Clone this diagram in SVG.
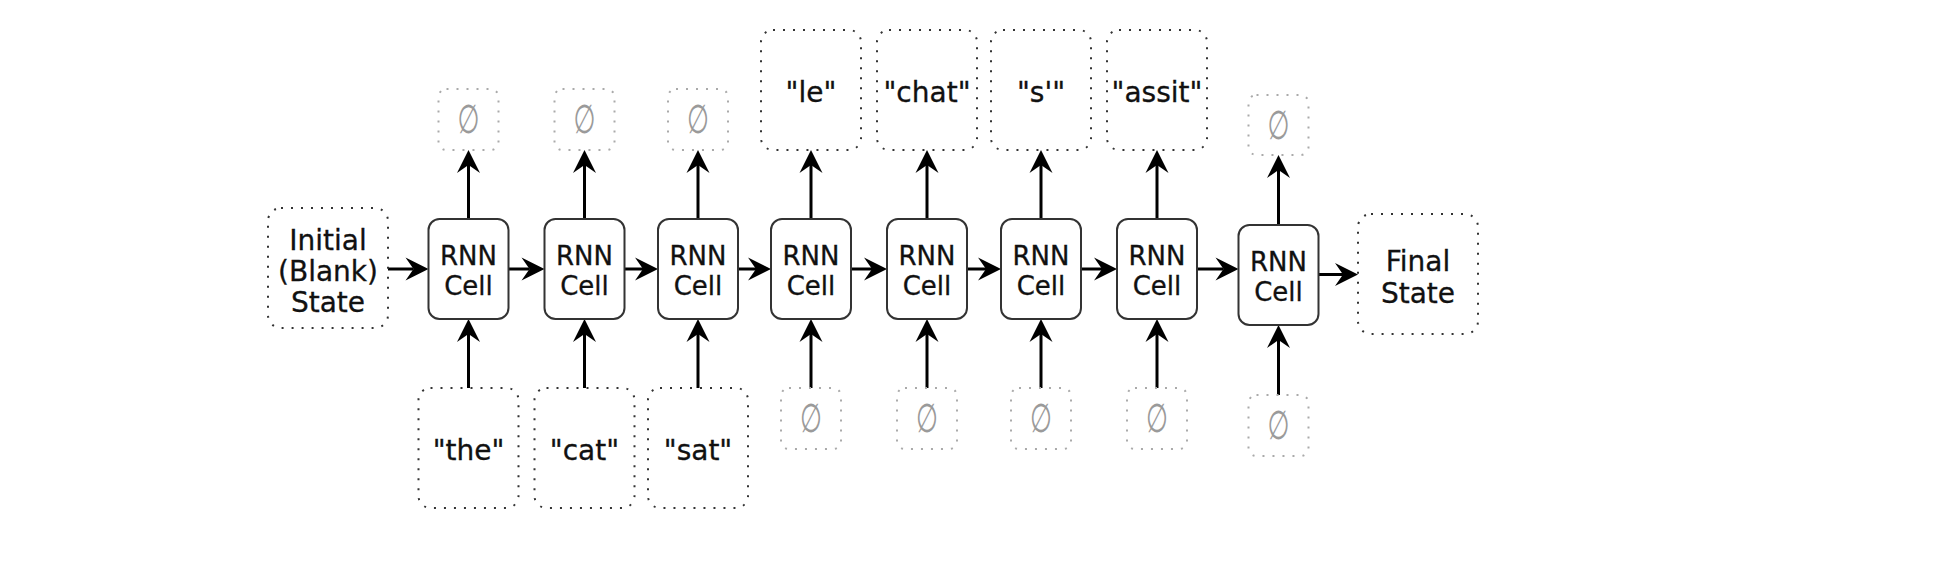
<svg xmlns="http://www.w3.org/2000/svg" width="1960" height="570" viewBox="0 0 1960 570">
<style>
  .cell { fill: #ffffff; stroke: #333333; stroke-width: 2; }
  .dbox { fill: none; stroke: #333333; stroke-width: 2; stroke-dasharray: 2 8; }
  .ebox { fill: none; stroke: #aaaaaa; stroke-width: 2; stroke-dasharray: 2 8; }
  .t { font-family: "DejaVu Sans", Verdana, sans-serif; font-size: 28px; fill: #111111; stroke: #111111; stroke-width: 0.3; text-anchor: middle; }
  .c { font-family: "DejaVu Sans", Verdana, sans-serif; font-size: 26px; fill: #111111; stroke: #111111; stroke-width: 0.3; text-anchor: middle; }
  .e { font-family: "DejaVu Sans", sans-serif; font-size: 28px; fill: #9a9a9a; text-anchor: middle; }
  .arr { stroke: #000000; stroke-width: 3; fill: none; marker-end: url(#ah); }
</style>
<defs>
  <marker id="ah" markerUnits="userSpaceOnUse" orient="auto" overflow="visible" markerWidth="1" markerHeight="1" refX="0" refY="0">
    <path d="M15,0 L-8,-11.5 L0,0 L-8,11.5 Z" fill="#000000"/>
  </marker>
</defs>
<rect width="1960" height="570" fill="#ffffff"/>

<g id="connectors">
  <line class="arr" x1="388" y1="269" x2="413.5" y2="269"/>
  <line class="arr" x1="508.5" y1="269" x2="529.5" y2="269"/>
  <line class="arr" x1="624.5" y1="269" x2="643" y2="269"/>
  <line class="arr" x1="738" y1="269" x2="756" y2="269"/>
  <line class="arr" x1="851" y1="269" x2="872" y2="269"/>
  <line class="arr" x1="967" y1="269" x2="986" y2="269"/>
  <line class="arr" x1="1081" y1="269" x2="1102" y2="269"/>
  <line class="arr" x1="1197" y1="269" x2="1223.5" y2="269"/>
  <line class="arr" x1="1318.5" y1="274.5" x2="1343" y2="274.5"/>
  <line class="arr" x1="468.5" y1="388" x2="468.5" y2="334"/>
  <line class="arr" x1="584.5" y1="388" x2="584.5" y2="334"/>
  <line class="arr" x1="698" y1="388" x2="698" y2="334"/>
  <line class="arr" x1="811" y1="388" x2="811" y2="334"/>
  <line class="arr" x1="927" y1="388" x2="927" y2="334"/>
  <line class="arr" x1="1041" y1="388" x2="1041" y2="334"/>
  <line class="arr" x1="1157" y1="388" x2="1157" y2="334"/>
  <line class="arr" x1="1278.5" y1="395" x2="1278.5" y2="340"/>
  <line class="arr" x1="468.5" y1="219" x2="468.5" y2="165"/>
  <line class="arr" x1="584.5" y1="219" x2="584.5" y2="165"/>
  <line class="arr" x1="698" y1="219" x2="698" y2="165"/>
  <line class="arr" x1="811" y1="219" x2="811" y2="165"/>
  <line class="arr" x1="927" y1="219" x2="927" y2="165"/>
  <line class="arr" x1="1041" y1="219" x2="1041" y2="165"/>
  <line class="arr" x1="1157" y1="219" x2="1157" y2="165"/>
  <line class="arr" x1="1278.5" y1="225" x2="1278.5" y2="170"/>
</g>

<g id="initial-state">
  <rect class="dbox" x="268" y="208" width="120" height="120" rx="13"/>
  <text class="t" x="328" y="250">Initial</text>
  <text class="t" x="328" y="281">(Blank)</text>
  <text class="t" x="328" y="312">State</text>
</g>
<g id="final-state">
  <rect class="dbox" x="1358" y="214" width="120" height="120" rx="13"/>
  <text class="t" x="1418" y="271">Final</text>
  <text class="t" x="1418" y="303">State</text>
</g>

<g id="cell1"><rect class="cell" x="428.5" y="219" width="80" height="100" rx="11"/><text class="c" x="468.5" y="265">RNN</text><text class="c" x="468.5" y="295">Cell</text></g>
<g id="cell2"><rect class="cell" x="544.5" y="219" width="80" height="100" rx="11"/><text class="c" x="584.5" y="265">RNN</text><text class="c" x="584.5" y="295">Cell</text></g>
<g id="cell3"><rect class="cell" x="658" y="219" width="80" height="100" rx="11"/><text class="c" x="698" y="265">RNN</text><text class="c" x="698" y="295">Cell</text></g>
<g id="cell4"><rect class="cell" x="771" y="219" width="80" height="100" rx="11"/><text class="c" x="811" y="265">RNN</text><text class="c" x="811" y="295">Cell</text></g>
<g id="cell5"><rect class="cell" x="887" y="219" width="80" height="100" rx="11"/><text class="c" x="927" y="265">RNN</text><text class="c" x="927" y="295">Cell</text></g>
<g id="cell6"><rect class="cell" x="1001" y="219" width="80" height="100" rx="11"/><text class="c" x="1041" y="265">RNN</text><text class="c" x="1041" y="295">Cell</text></g>
<g id="cell7"><rect class="cell" x="1117" y="219" width="80" height="100" rx="11"/><text class="c" x="1157" y="265">RNN</text><text class="c" x="1157" y="295">Cell</text></g>
<g id="cell8"><rect class="cell" x="1238.5" y="225" width="80" height="100" rx="11"/><text class="c" x="1278.5" y="271">RNN</text><text class="c" x="1278.5" y="301">Cell</text></g>

<g id="in1"><rect class="dbox" x="418.5" y="388" width="100" height="120" rx="12"/><text class="t" x="468.5" y="460">"the"</text></g>
<g id="in2"><rect class="dbox" x="534.5" y="388" width="100" height="120" rx="12"/><text class="t" x="584.5" y="460">"cat"</text></g>
<g id="in3"><rect class="dbox" x="648" y="388" width="100" height="120" rx="12"/><text class="t" x="698" y="460">"sat"</text></g>
<g id="in4"><rect class="ebox" x="781" y="388" width="60" height="61" rx="8"/><text class="e" transform="translate(811,432) scale(0.9,1.43)">∅</text></g>
<g id="in5"><rect class="ebox" x="897" y="388" width="60" height="61" rx="8"/><text class="e" transform="translate(927,432) scale(0.9,1.43)">∅</text></g>
<g id="in6"><rect class="ebox" x="1011" y="388" width="60" height="61" rx="8"/><text class="e" transform="translate(1041,432) scale(0.9,1.43)">∅</text></g>
<g id="in7"><rect class="ebox" x="1127" y="388" width="60" height="61" rx="8"/><text class="e" transform="translate(1157,432) scale(0.9,1.43)">∅</text></g>
<g id="in8"><rect class="ebox" x="1248.5" y="395" width="60" height="61" rx="8"/><text class="e" transform="translate(1278.5,439) scale(0.9,1.43)">∅</text></g>

<g id="out1"><rect class="ebox" x="438.5" y="89" width="60" height="61" rx="8"/><text class="e" transform="translate(468.5,133) scale(0.9,1.43)">∅</text></g>
<g id="out2"><rect class="ebox" x="554.5" y="89" width="60" height="61" rx="8"/><text class="e" transform="translate(584.5,133) scale(0.9,1.43)">∅</text></g>
<g id="out3"><rect class="ebox" x="668" y="89" width="60" height="61" rx="8"/><text class="e" transform="translate(698,133) scale(0.9,1.43)">∅</text></g>
<g id="out4"><rect class="dbox" x="761" y="30" width="100" height="120" rx="12"/><text class="t" x="811" y="102">"le"</text></g>
<g id="out5"><rect class="dbox" x="877" y="30" width="100" height="120" rx="12"/><text class="t" x="927" y="102">"chat"</text></g>
<g id="out6"><rect class="dbox" x="991" y="30" width="100" height="120" rx="12"/><text class="t" x="1041" y="102">"s'"</text></g>
<g id="out7"><rect class="dbox" x="1107" y="30" width="100" height="120" rx="12"/><text class="t" x="1157" y="102">"assit"</text></g>
<g id="out8"><rect class="ebox" x="1248.5" y="95" width="60" height="60" rx="8"/><text class="e" transform="translate(1278.5,138.5) scale(0.9,1.43)">∅</text></g>
</svg>
